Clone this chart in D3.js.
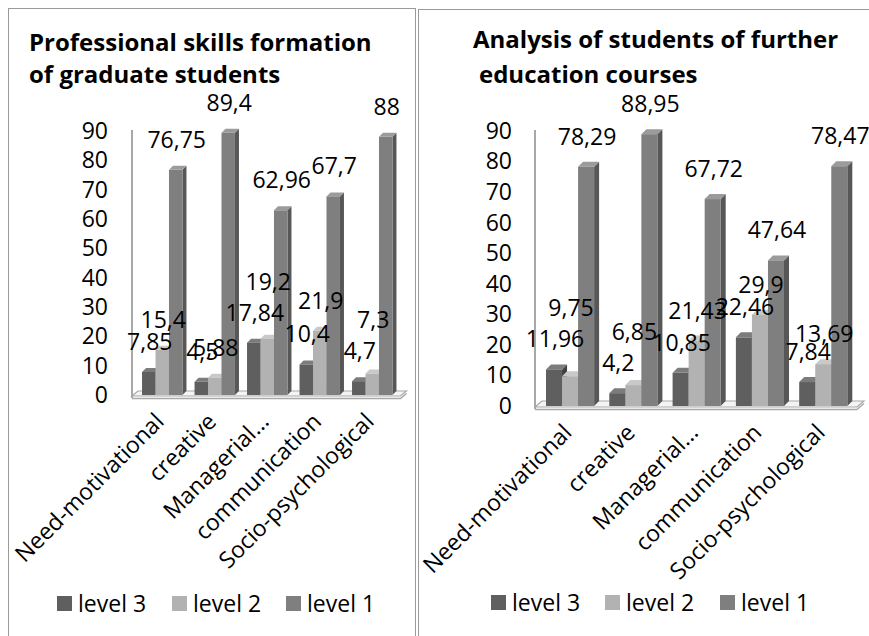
<!doctype html>
<html>
<head>
<meta charset="utf-8">
<title>Professional skills</title>
<style>
    body { margin: 0; background: #fff; }
    svg text { font-family: "Open Sans", "Noto Sans", sans-serif; fill: #000; }
    .title { font-weight: bold; font-size: 24px; }
    .num { font-size: 23px; }
    .axis .domain, .axis .tick line { display: none; }
    .axis text { font-size: 23px; font-family: "Open Sans", sans-serif; }
</style>
</head>
<body>
<svg id="chart" width="869" height="636"></svg>
<script src="https://cdnjs.cloudflare.com/ajax/libs/d3/7.8.5/d3.min.js"></script>
<script>
// categories + series
var categories = ["Need-motivational", "creative", "Managerial...", "communication", "Socio-psychological"];
var seriesNames = ["level 3", "level 2", "level 1"];
var yTicks = [0, 10, 20, 30, 40, 50, 60, 70, 80, 90];

// chart 1: graduate students
var gradLevel3 = [7.85, 4.5, 17.84, 10.4, 4.7];
var gradLevel2 = [15.4, 5.88, 19.2, 21.9, 7.3];
var gradLevel1 = [76.75, 89.4, 62.96, 67.7, 88];

// chart 2: further education courses
var courseLevel3 = [11.96, 4.2, 10.85, 22.46, 7.84];
var courseLevel2 = [9.75, 6.85, 21.43, 29.9, 13.69];
var courseLevel1 = [78.29, 88.95, 67.72, 47.64, 78.47];

// front / side / top shades per series
var colors = {
    "level 3": ["#5f5f5f", "#404040", "#7c7c7c"],
    "level 2": ["#b2b2b2", "#8a8a8a", "#c9c9c9"],
    "level 1": ["#7f7f7f", "#575757", "#9b9b9b"]
};

var svg = d3.select("#chart");

// panel borders
svg.append("rect").attr("x", 8.5).attr("y", 8.5).attr("width", 407).attr("height", 640)
    .attr("fill", "none").attr("stroke", "#9a9a9a");
svg.append("rect").attr("x", 418.5).attr("y", 9.5).attr("width", 460).attr("height", 640)
    .attr("fill", "none").attr("stroke", "#9a9a9a");

function fmt(v) {
    return String(v).replace(".", ",");
}

function drawChart(opt) {
    var g = svg.append("g");
    var data = [opt.l3, opt.l2, opt.l1];

    // titles
    opt.title.forEach(function(t, i) {
        g.append("text").attr("class", "title")
            .attr("x", opt.titleX[i]).attr("y", opt.titleY[i])
            .text(t);
    });

    var x = d3.scaleBand().domain(categories).range(opt.xRange)
        .paddingInner(opt.pad).paddingOuter(opt.pad / 2);
    var xs = d3.scaleBand().domain(seriesNames).range([0, x.bandwidth()]);
    var y = d3.scaleLinear().domain([0, 90]).range(opt.yRange);
    var d = opt.depth;

    var base = y(0);
    var floorY = base + 1;
    var xR = opt.xRange[1] + 2;

    // vertical axis line
    g.append("line").attr("x1", opt.x0).attr("x2", opt.x0)
        .attr("y1", y(90) - 1).attr("y2", floorY + 2)
        .attr("stroke", "#a8a8a8").attr("stroke-width", 2);

    // floor
    g.append("path")
        .attr("d", "M" + opt.x0 + "," + floorY + "L" + xR + "," + floorY + "L" + (xR + d + 2) + "," + (floorY - d - 1) +
            "L" + (opt.x0 + d + 2) + "," + (floorY - d - 1) + "Z")
        .attr("fill", "#f4f4f4").attr("stroke", "#a8a8a8").attr("stroke-width", 1.2);
    g.append("path")
        .attr("d", "M" + opt.x0 + "," + (floorY + 2.5) + "L" + xR + "," + (floorY + 2.5) + "L" + (xR + d + 2) + "," + (floorY - d + 1.5))
        .attr("fill", "none").attr("stroke", "#a8a8a8").attr("stroke-width", 1.5);

    // axis
    g.append("g").attr("class", "axis")
        .attr("transform", "translate(" + opt.x0 + ",0)")
        .call(d3.axisLeft(y).tickValues(yTicks).tickSize(0).tickPadding(opt.tickPad));

    // bars (3D columns)
    categories.forEach(function(c, ci) {
        seriesNames.forEach(function(s, si) {
            var v = data[si][ci];
            var bx = x(c) + xs(s), bw = xs.bandwidth();
            var top = y(v);
            var col = colors[s];
            var bg = g.append("g");
            bg.append("path")
                .attr("d", "M" + (bx + bw) + "," + top + "L" + (bx + bw + d) + "," + (top - d) +
                    "L" + (bx + bw + d) + "," + (base - d) + "L" + (bx + bw) + "," + base + "Z")
                .attr("fill", col[1]);
            bg.append("path")
                .attr("d", "M" + bx + "," + top + "L" + (bx + d) + "," + (top - d) +
                    "L" + (bx + bw + d) + "," + (top - d) + "L" + (bx + bw) + "," + top + "Z")
                .attr("fill", col[2]);
            bg.append("rect").attr("x", bx).attr("y", top)
                .attr("width", bw).attr("height", base - top)
                .attr("fill", col[0]);
        });
    });

    // data labels (some are raised above the neighbour label, as in the original)
    categories.forEach(function(c, ci) {
        var prevY = null;
        seriesNames.forEach(function(s, si) {
            var v = data[si][ci];
            var ly = y(v) - 22;
            if (opt.raised.indexOf(c + "|" + s) >= 0 && prevY !== null) ly = prevY - 31;
            prevY = ly;
            g.append("text").attr("class", "num")
                .attr("x", x(c) + xs(s) + xs.bandwidth() / 2 + 1)
                .attr("y", ly)
                .attr("text-anchor", "middle")
                .text(fmt(v));
        });
    });

    // category labels
    categories.forEach(function(c) {
        var cx = x(c) + x.bandwidth() / 2 + 3;
        var cy = floorY + 27;
        g.append("text").attr("class", "num")
            .attr("transform", "translate(" + cx + "," + cy + ") rotate(-45)")
            .attr("text-anchor", "end")
            .text(c);
    });

    // legend
    seriesNames.forEach(function(s, i) {
        var lx = opt.legendX[i];
        g.append("rect").attr("x", lx).attr("y", opt.legendY)
            .attr("width", 15).attr("height", 15).attr("fill", colors[s][0]);
        g.append("text").attr("class", "num")
            .attr("x", lx + 21).attr("y", opt.legendY + 16)
            .text(s);
    });
}

drawChart({
    title: ["Professional skills formation", "of graduate students"],
    titleX: [29, 29], titleY: [51, 83],
    l3: gradLevel3, l2: gradLevel2, l1: gradLevel1,
    x0: 132, xRange: [136, 398.5], pad: 0.23,
    yRange: [395, 131], depth: 4, tickPad: 24,
    raised: ["Managerial...|level 2", "Socio-psychological|level 2"],
    legendX: [57, 172, 286], legendY: 596
});

drawChart({
    title: ["Analysis of students of further", "education courses"],
    titleX: [473, 479], titleY: [48, 83],
    l3: courseLevel3, l2: courseLevel2, l1: courseLevel1,
    x0: 535, xRange: [538.4, 854.9], pad: 0.24,
    yRange: [406, 131], depth: 5, tickPad: 23,
    raised: ["Need-motivational|level 2", "creative|level 2"],
    legendX: [491, 605, 720], legendY: 595
});
</script>
</body>
</html>
